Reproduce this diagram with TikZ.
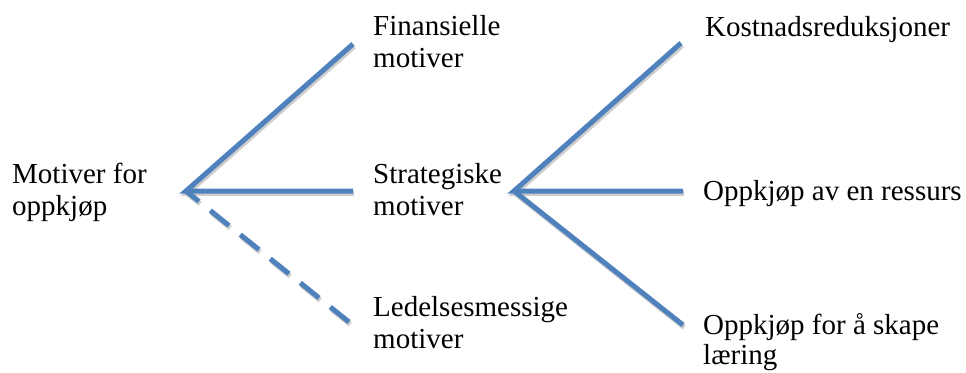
\documentclass[tikz,border=0pt]{standalone}
\usepackage{fontspec}
\setmainfont{Liberation Serif}
\definecolor{linkblue}{HTML}{4F81BD}
\definecolor{shadowgray}{HTML}{CDCDCD}
\begin{document}
\begin{tikzpicture}[x=1pt,y=-1pt,
  lbl/.style={anchor=base west,inner sep=0pt,font=\fontsize{29}{32}\selectfont,align=left},
  shadowline/.style={draw=shadowgray,line width=5pt,transform canvas={shift={(1.2pt,-2.4pt)}}},
  link/.style={draw=linkblue,line width=5pt},
  dashes/.style={dash pattern=on 24pt off 14.5pt}]
\useasboundingbox (0,0) rectangle (966,372);
% hubs and ends
\coordinate (h1) at (186,191);
\coordinate (h2) at (514,191);
\coordinate (e1) at (353,44);
\coordinate (e2) at (353,191);
\coordinate (e3) at (349,322);
\coordinate (f1) at (681,43);
\coordinate (f2) at (683,191);
\coordinate (f3) at (683,325);
% labels (anchored at the baseline of the last line)
\node[lbl] (root) at (12,215) {Motiver for\\oppkjøp};
\node[lbl] (fin) at (373,67) {Finansielle\\motiver};
\node[lbl] (str) at (373,215) {Strategiske\\motiver};
\node[lbl] (led) at (373,348) {Ledelsesmessige\\motiver};
\node[lbl] (kost) at (705,36) {Kostnadsreduksjoner};
\node[lbl] (ress) at (703,200) {Oppkjøp av en ressurs};
\node[lbl,font=\fontsize{29}{30}\selectfont] (laer) at (703,364) {Oppkjøp for å skape\\læring};
% shadows
\draw[shadowline] (e1) -- (h1) -- (e2);
\draw[shadowline,dashes] (e3) -- (h1);
\draw[shadowline] (f1) -- (h2) -- (f2);
\draw[shadowline] (h2) -- (f3);
% connectors
\draw[link] (e1) -- (h1) -- (e2);
\draw[link,dashes] (e3) -- (h1);
\draw[link] (f1) -- (h2) -- (f2);
\draw[link] (h2) -- (f3);
\end{tikzpicture}
\end{document}
